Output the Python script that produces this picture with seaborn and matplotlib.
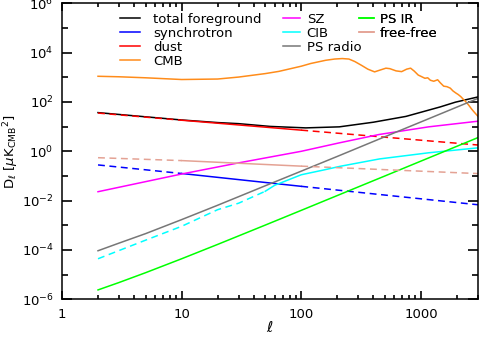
import numpy as np
import pandas as pd
import matplotlib
matplotlib.use("Agg")
import matplotlib.pyplot as plt
import seaborn as sns
from matplotlib.lines import Line2D
from matplotlib.ticker import FixedLocator, FixedFormatter, NullFormatter, LogFormatterMathtext

ell_pl = [2, 10, 100, 3000]
dust = [35.5, 18.2, 7.2, 1.8]
synchrotron = [0.28, 0.126, 0.038, 0.0068]
free_free = [0.55, 0.42, 0.25, 0.125]

# total foreground
ell_tot = [2, 5, 10, 20, 30, 55, 109, 208, 400, 750, 1450, 1940, 3000]
total_fg = [37, 25, 18.6, 14.6, 13.2, 10.2, 8.9, 9.8, 15.1, 26, 63, 98, 160]

# CMB
ell_cmb = [2, 3, 5, 10, 20, 30, 50, 65, 100, 120, 160, 190, 220, 250, 280, 320, 360,
           410, 460, 510, 550, 620, 690, 760, 820, 880, 950, 1000, 1080, 1140, 1200,
           1280, 1380, 1450, 1550, 1650, 1760, 1850, 1950, 2050, 2150, 2250, 2350,
           2500, 2650, 2800, 3000]
cmb = [1100, 1050, 955, 813, 851, 1023, 1413, 1738, 2818, 3630, 4900, 5500, 5750, 5500,
       4365, 3020, 2138, 1660, 1995, 2344, 2239, 1820, 1698, 2138, 2344, 1778, 1230,
       1096, 912, 955, 759, 692, 794, 603, 437, 417, 363, 282, 234, 200, 166, 132, 107,
       76, 52, 38, 26]

# SZ
ell_sz = [2, 10, 30, 100, 208, 447, 1160, 3000]
sz = [0.023, 0.12, 0.34, 1.0, 2.2, 4.8, 9.8, 16.6]

# CIB (dashed at low l, solid above l=50)
ell_cib_lo = [2, 5, 10, 20, 30, 50]
cib_lo = [4.4e-5, 2.5e-4, 9.1e-4, 4.3e-3, 7.9e-3, 2.4e-2]
ell_cib_hi = [50, 60, 100, 160, 210, 450, 1160, 3000]
cib_hi = [0.024, 0.042, 0.112, 0.182, 0.245, 0.49, 0.87, 1.38]

# point sources
ell_ps = [2, 3, 5, 10, 20, 50, 100, 200, 500, 1000, 2000, 3000]
ps_radio = [9.3e-5, 1.9e-4, 4.6e-4, 1.7e-3, 6.5e-3, 4.0e-2, 0.157, 0.62, 3.9, 15.5, 62, 140]
ps_ir = [2.4e-6, 4.8e-6, 1.2e-5, 4.4e-5, 1.68e-4, 1.02e-3, 4.04e-3, 1.61e-2, 0.1, 0.4, 1.6, 3.6]

# tick positions
x_major = [1, 10, 100, 1000]
x_labels = ["1", "10", "100", "1000"]
x_minor = [m * 10 ** k for k in range(0, 4) for m in range(2, 10) if m * 10 ** k <= 3000]
y_major = [10.0 ** k for k in range(-6, 7, 2)]
y_minor = [10.0 ** k for k in range(-5, 6, 2)]

colors = {
    "total foreground": "black",
    "synchrotron": "#0000ff",
    "dust": "#ff0000",
    "CMB": "#ff8c1a",
    "SZ": "#ff00ff",
    "CIB": "#00ffff",
    "PS radio": "#777777",
    "PS IR": "#00ff00",
    "free-free": "#e4a294",
}

# plain white background, ticks drawn inside on all four sides
plt.rcParams.update({
    "font.family": ["DejaVu Sans"],
    "mathtext.fontset": "dejavusans",
    "font.size": 9.5,
    "axes.facecolor": "white",
    "figure.facecolor": "white",
    "axes.grid": False,
    "xtick.direction": "in",
    "ytick.direction": "in",
    "xtick.top": True,
    "ytick.right": True,
})

fig = plt.figure(figsize=(4.79, 3.39), dpi=100)
ax = fig.add_axes([62 / 479, 1 - 299.3 / 339, 416 / 479, 296 / 339])
ax.set_xscale("log")
ax.set_yscale("log")

lw = 1.1
dash = (0, (4.5, 3))


def draw(x, y, color, ls="-"):
    sns.lineplot(x=x, y=y, ax=ax, color=color, linestyle=ls, lw=lw,
                 estimator=None, sort=False)


def draw_split(y, color):
    # dashed below l=10, solid 10-100, dashed above
    draw(ell_pl[0:2], y[0:2], color, dash)
    draw(ell_pl[1:3], y[1:3], color, "-")
    draw(ell_pl[2:4], y[2:4], color, dash)


draw(ell_tot, total_fg, colors["total foreground"])
draw_split(synchrotron, colors["synchrotron"])
draw_split(dust, colors["dust"])
draw(ell_cmb, cmb, colors["CMB"])
draw(ell_sz, sz, colors["SZ"])
draw(ell_cib_lo, cib_lo, colors["CIB"], dash)
draw(ell_cib_hi, cib_hi, colors["CIB"])
draw(ell_ps, ps_radio, colors["PS radio"])
draw(ell_ps, ps_ir, colors["PS IR"])
draw_split(free_free, colors["free-free"])

ax.set_xlim(1, 3000)
ax.set_ylim(1e-6, 1e6)

ax.xaxis.set_major_locator(FixedLocator(x_major))
ax.xaxis.set_major_formatter(FixedFormatter(x_labels))
ax.xaxis.set_minor_locator(FixedLocator(x_minor))
ax.xaxis.set_minor_formatter(NullFormatter())
ax.yaxis.set_major_locator(FixedLocator(y_major))
ax.yaxis.set_major_formatter(LogFormatterMathtext())
ax.yaxis.set_minor_locator(FixedLocator(y_minor))
ax.yaxis.set_minor_formatter(NullFormatter())

ax.tick_params(axis="x", which="major", direction="in", top=True, bottom=True,
               length=6, width=1.2, pad=6, colors="black", labelsize=9.5)
ax.tick_params(axis="x", which="minor", direction="in", top=True, bottom=True,
               length=3, width=1.2, colors="black")
ax.tick_params(axis="y", which="major", direction="in", left=True, right=True,
               length=7, width=1.2, pad=6, colors="black", labelsize=9.5)
ax.tick_params(axis="y", which="minor", direction="in", left=True, right=True,
               length=4.5, width=1.2, colors="black")
for sp in ax.spines.values():
    sp.set_linewidth(1.1)
    sp.set_color("black")

ax.set_xlabel(r"$\ell$", fontsize=11)
ax.set_ylabel(r"D$_\ell$ [$\mu$K$_{\rm CMB}{}^2$]", fontsize=9.5)
ax.xaxis.set_label_coords(0.5, -0.07)
ax.yaxis.set_label_coords(-0.098, 0.5)


def legend_block(names, x0, hlen, hpad):
    handles = [Line2D([], [], color=colors[n], lw=lw) for n in names]
    leg = ax.legend(handles, names, loc="upper left", bbox_to_anchor=(x0, 0.968),
                    frameon=False, borderpad=0, borderaxespad=0, labelspacing=0.08,
                    handlelength=hlen, handletextpad=hpad, fontsize=9.5)
    ax.add_artist(leg)


legend_block(["total foreground", "synchrotron", "dust", "CMB"], 0.139, 1.5, 1.0)
legend_block(["SZ", "CIB", "PS radio"], 0.531, 1.3, 0.5)
legend_block(["PS IR", "free-free"], 0.714, 1.1, 0.5)

fig.savefig("out.png", dpi=100)
